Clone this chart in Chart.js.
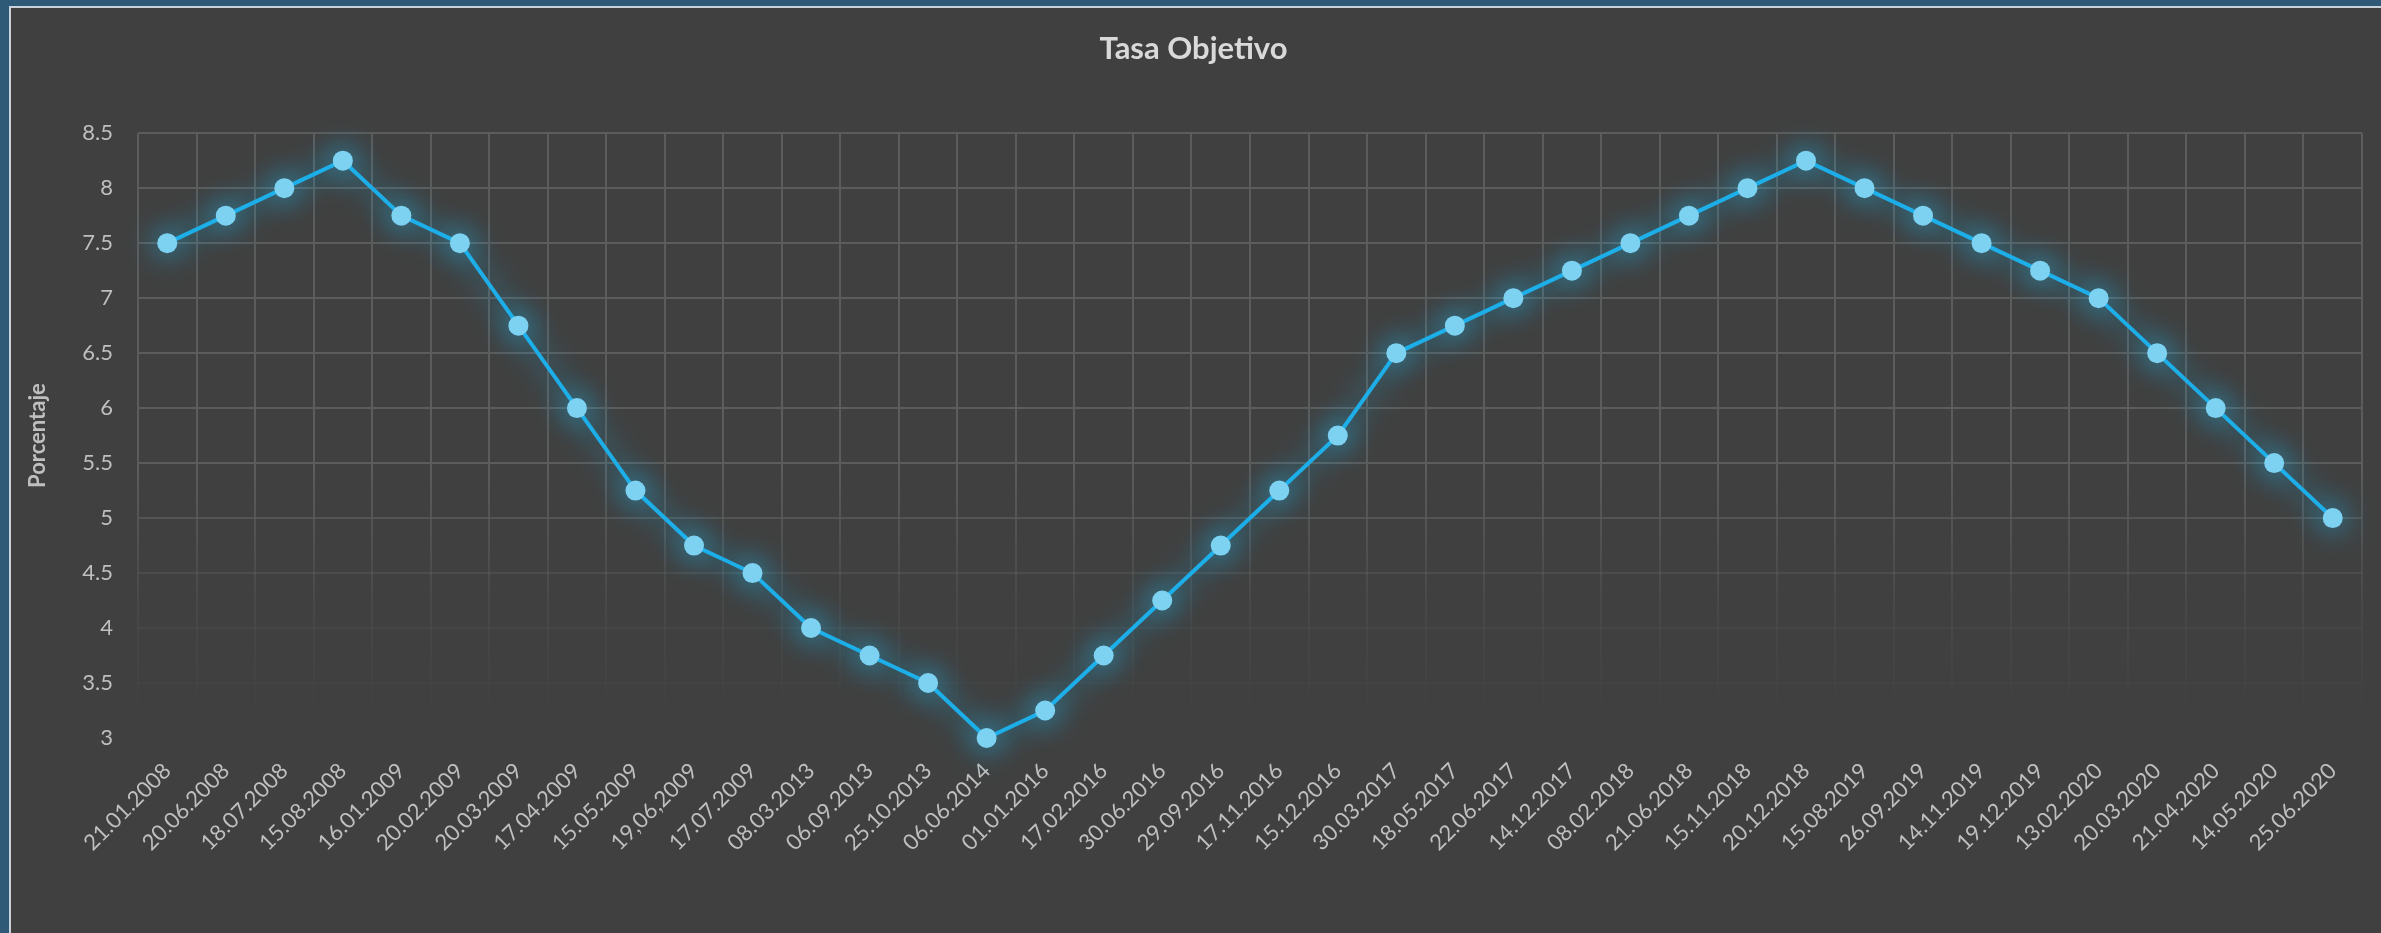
<!DOCTYPE html>
<html>
<head>
<meta charset="utf-8">
<script src="https://cdn.jsdelivr.net/npm/chart.js@4/dist/chart.umd.min.js"></script>
<style>
  html, body { margin: 0; padding: 0; width: 2381px; height: 933px; overflow: hidden; background: #2f5a77; }
  #panel { position: absolute; left: 9px; top: 6px; right: 0; bottom: 0; background: #404040; border-left: 2px solid #c9d2da; border-top: 2px solid #c9d2da; }
  #wrap { position: absolute; left: 0; top: 0; width: 2381px; height: 933px; }
</style>
</head>
<body>
<div id="panel"></div>
<div id="wrap"><canvas id="rateChart" width="2381" height="933"></canvas></div>
<script>
const fechas = ["21.01.2008","20.06.2008","18.07.2008","15.08.2008","16.01.2009","20.02.2009","20.03.2009","17.04.2009","15.05.2009","19,06,2009","17.07.2009","08.03.2013","06.09.2013","25.10.2013","06.06.2014","01.01.2016","17.02.2016","30.06.2016","29.09.2016","17.11.2016","15.12.2016","30.03.2017","18.05.2017","22.06.2017","14.12.2017","08.02.2018","21.06.2018","15.11.2018","20.12.2018","15.08.2019","26.09.2019","14.11.2019","19.12.2019","13.02.2020","20.03.2020","21.04.2020","14.05.2020","25.06.2020"];
const tasa = [7.5,7.75,8,8.25,7.75,7.5,6.75,6,5.25,4.75,4.5,4,3.75,3.5,3,3.25,3.75,4.25,4.75,5.25,5.75,6.5,6.75,7,7.25,7.5,7.75,8,8.25,8,7.75,7.5,7.25,7,6.5,6,5.5,5];
const yMin = 3, yMax = 8.5, yStep = 0.5;

// grid lines fade out toward the bottom of the plot
function gridColor(ctx) {
    const chart = ctx.chart;
    const area = chart.chartArea;
    if (!area) return "#595959";
    const g = chart.ctx.createLinearGradient(0, area.top, 0, area.bottom);
    g.addColorStop(0, "rgba(92,92,92,1)");
    g.addColorStop(0.55, "rgba(92,92,92,1)");
    g.addColorStop(0.78, "rgba(92,92,92,0.3)");
    g.addColorStop(0.97, "rgba(92,92,92,0)");
    g.addColorStop(1, "rgba(92,92,92,0)");
    return g;
}

const glow = {
    id: "glow",
    beforeDatasetsDraw(chart) {
        const c = chart.ctx;
        c.save();
        c.shadowColor = "rgba(30,190,245,0.95)";
        c.shadowBlur = 30;
    },
    afterDatasetsDraw(chart) {
        chart.ctx.restore();
    }
};

new Chart(document.getElementById("rateChart"), {
    type: "line",
    data: {
        labels: fechas,
        datasets: [{
            label: "Tasa Objetivo",
            data: tasa,
            borderColor: "#1eaee8",
            borderWidth: 4,
            pointRadius: 10,
            pointHoverRadius: 10,
            pointBackgroundColor: "#7dd2f2",
            pointBorderColor: "#7dd2f2",
            pointBorderWidth: 0,
            tension: 0,
            clip: false
        }]
    },
    options: {
        responsive: false,
        animation: false,
        layout: { padding: { left: 25, right: 19, top: 0, bottom: 0 } },
        plugins: {
            legend: { display: false },
            tooltip: { enabled: false },
            title: {
                display: true,
                text: "Tasa Objetivo",
                color: "#d9d9d9",
                font: { family: "Lato", size: 31, weight: "bold" },
                padding: { top: 30, bottom: 66 }
            }
        },
        scales: {
            x: {
                offset: true,
                grid: { offset: true, color: gridColor, lineWidth: 2, drawTicks: false },
                border: { display: false },
                afterFit(scale) { scale.height = 195; },
                ticks: {
                    color: "#bfbfbf",
                    font: { family: "Lato", size: 22 },
                    minRotation: 45,
                    maxRotation: 45,
                    autoSkip: false,
                    padding: 20
                }
            },
            y: {
                min: yMin,
                max: yMax,
                afterFit(scale) { scale.width = 113; },
                grid: { color: gridColor, lineWidth: 2, drawTicks: false },
                border: { display: false },
                ticks: {
                    stepSize: yStep,
                    color: "#bfbfbf",
                    font: { family: "Lato", size: 22 },
                    padding: 25,
                    callback: (v) => String(v)
                },
                title: {
                    display: true,
                    text: "Porcentaje",
                    color: "#bfbfbf",
                    font: { family: "Lato", size: 22, weight: "bold" },
                    padding: 0
                }
            }
        }
    },
    plugins: [glow]
});
</script>
</body>
</html>
